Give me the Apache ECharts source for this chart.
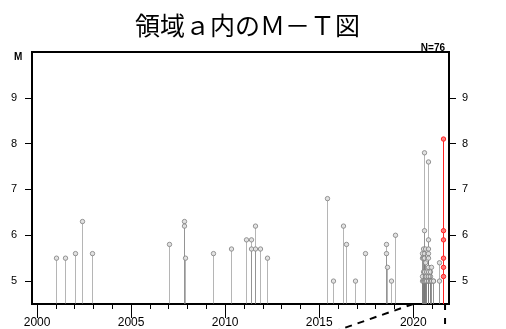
<!DOCTYPE html>
<html>
<head>
<meta charset="utf-8">
<script src="https://cdn.jsdelivr.net/npm/echarts@6/dist/echarts.min.js"></script>
<style>
html,body{margin:0;padding:0;background:#fff;}
#chart{width:506px;height:329px;}
</style>
</head>
<body>
<div id="chart"></div>
<script>
// ---- data (decimal year, magnitude) ----
const pastYears = [
  2001.00, 2001.51, 2001.99, 2002.41, 2002.93,
  2007.04, 2007.79, 2007.80, 2007.86,
  2009.35, 2010.30, 2011.10, 2011.35, 2011.36, 2011.56, 2011.57, 2011.86, 2012.22,
  2015.43, 2015.71, 2016.26, 2016.44, 2016.90, 2017.43, 2018.56, 2018.57, 2018.58, 2018.80, 2019.01,
  2020.45, 2020.45, 2020.45, 2020.45,
  2020.50, 2020.50, 2020.50, 2020.50,
  2020.55, 2020.55, 2020.55, 2020.55, 2020.55, 2020.55,
  2020.60, 2020.60, 2020.60, 2020.60,
  2020.70, 2020.70, 2020.70,
  2020.76, 2020.76, 2020.76, 2020.76, 2020.76, 2020.76, 2020.76,
  2020.80, 2020.80, 2020.80, 2020.80,
  2020.87, 2020.87, 2020.87,
  2020.96, 2020.96,
  2021.05, 2021.05,
  2021.38, 2021.38
];
const pastMags = [
  5.5, 5.5, 5.6, 6.3, 5.6,
  5.8, 6.3, 6.2, 5.5,
  5.6, 5.7, 5.9, 5.9, 5.7, 6.2, 5.7, 5.7, 5.5,
  6.8, 5.0, 6.2, 5.8, 5.0, 5.6, 5.8, 5.6, 5.3, 5.0, 6.0,
  5.5, 5.0, 5.6, 5.1,
  5.7, 5.5, 5.2, 5.0,
  7.8, 6.1, 5.6, 5.5, 5.0, 5.2,
  5.7, 5.4, 5.0, 5.1,
  5.2, 5.0, 5.1,
  7.6, 5.9, 5.7, 5.6, 5.5, 5.0, 5.1,
  5.3, 5.1, 5.0, 5.2,
  5.1, 5.0, 5.2,
  5.3, 5.0,
  5.0, 5.0,
  5.4, 5.0
];
const recentYears = [2021.57, 2021.57, 2021.57, 2021.57, 2021.57, 2021.57];
const recentMags  = [8.1, 6.1, 5.9, 5.5, 5.3, 5.1];

const yearTicks  = [2000,2001,2002,2003,2004,2005,2006,2007,2008,2009,2010,2011,2012,2013,2014,2015,2016,2017,2018,2019,2020,2021];
const yearLabels = [2000, 2005, 2010, 2015, 2020];
const magTicks   = [5, 6, 7, 8, 9];
const xMin = 1999.73, xMax = 2021.9, yMin = 4.5, yMax = 10;
const zoomLeft  = [[2020.0, 4.5], [2015.8, 3.9]];
const zoomRight = [[2021.69, 4.5], [2021.69, 3.9]];

const titleText = '領域ａ内のＭ－Ｔ図';
const countText = 'N=76';

const pastData = pastYears.map((y, i) => [y, pastMags[i]]);
const recentData = recentYears.map((y, i) => [y, recentMags[i]]);

function stemRenderer(stroke, fill, cstroke) {
  return function (params, api) {
    const top = api.coord([api.value(0), api.value(1)]);
    const bot = api.coord([api.value(0), yMin]);
    const x = Math.round(top[0]) + 0.5;
    return {
      type: 'group',
      children: [
        { type: 'line', shape: { x1: x, y1: bot[1], x2: x, y2: top[1] },
          style: { stroke: stroke, lineWidth: 1 } },
        { type: 'circle', shape: { cx: x, cy: top[1], r: 2.2 },
          style: { fill: fill, stroke: cstroke, lineWidth: 1 } }
      ]
    };
  };
}

const chart = echarts.init(document.getElementById('chart'), null, { renderer: 'canvas' });
const font = 'Liberation Sans, Arial, sans-serif';
chart.setOption({
  animation: false,
  backgroundColor: '#fff',
  title: [
    { text: titleText, left: 130, top: 8,
      textStyle: { fontFamily: 'Noto Sans CJK JP', fontSize: 25, fontWeight: 'normal', color: '#000' } },
    { text: 'M', left: 9, top: 47,
      textStyle: { fontFamily: font, fontSize: 10, fontWeight: 'bold', color: '#000' } },
    { text: countText, right: 56, top: 38,
      textStyle: { fontFamily: font, fontSize: 10, fontWeight: 'bold', color: '#000' } }
  ],
  grid: { left: 32, right: 57, top: 52, bottom: 22, show: true, borderColor: '#000', borderWidth: 2, backgroundColor: 'transparent' },
  xAxis: [
    { type: 'value', position: 'bottom', min: xMin, max: xMax,
      axisLine: { show: true, lineStyle: { color: '#000', width: 2 } },
      axisTick: { show: true, customValues: yearTicks, length: 5, lineStyle: { color: '#000', width: 1 } },
      axisLabel: { show: true, customValues: yearLabels, margin: 13, fontSize: 12, fontFamily: font, color: '#000',
                   formatter: v => String(Math.round(v)) },
      splitLine: { show: false } },
    { type: 'value', position: 'top', offset: -255, min: xMin, max: xMax,
      axisLine: { show: false },
      axisTick: { show: true, inside: true, customValues: yearLabels, length: 11, lineStyle: { color: '#000', width: 1 } },
      axisLabel: { show: false },
      splitLine: { show: false } }
  ],
  yAxis: [
    { type: 'value', position: 'left', min: yMin, max: yMax,
      axisLine: { show: true, lineStyle: { color: '#000', width: 2 } },
      axisTick: { show: true, customValues: magTicks, length: 7, lineStyle: { color: '#000' } },
      axisLabel: { customValues: magTicks, margin: 15, fontSize: 11, fontFamily: font, color: '#000' },
      splitLine: { show: false } },
    { type: 'value', position: 'right', min: yMin, max: yMax,
      axisLine: { show: true, lineStyle: { color: '#000', width: 2 } },
      axisTick: { show: true, customValues: magTicks, length: 7, lineStyle: { color: '#000' } },
      axisLabel: { customValues: magTicks, margin: 13, fontSize: 11, fontFamily: font, color: '#000' },
      splitLine: { show: false } }
  ],
  series: [
    { type: 'custom', name: 'past', xAxisIndex: 0, yAxisIndex: 0, data: pastData,
      renderItem: stemRenderer('rgba(120,120,120,0.55)', 'rgba(225,225,225,0.9)', 'rgba(130,130,130,0.85)') },
    { type: 'custom', name: 'recent', xAxisIndex: 0, yAxisIndex: 0, data: recentData, z: 3,
      renderItem: stemRenderer('#ff2020', 'rgba(255,120,120,0.9)', '#ff2020') },
    { type: 'line', xAxisIndex: 0, yAxisIndex: 0, data: zoomLeft, clip: false, symbol: 'none', silent: true,
      lineStyle: { color: '#000', width: 2, type: [7, 6] } },
    { type: 'line', xAxisIndex: 0, yAxisIndex: 0, data: zoomRight, clip: false, symbol: 'none', silent: true,
      lineStyle: { color: '#000', width: 2, type: [6, 8] } }
  ]
});
</script>
</body>
</html>
